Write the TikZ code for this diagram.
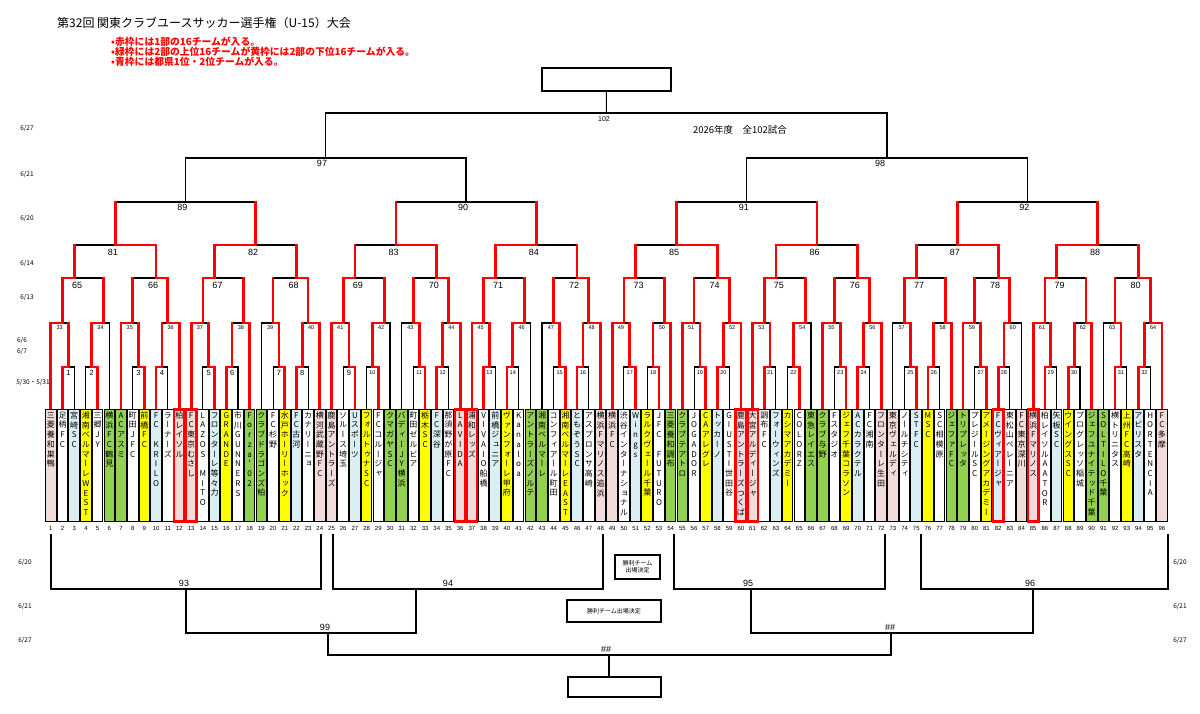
\documentclass[tikz,border=0pt]{standalone}
\usepackage{fontspec}
\setmainfont{Liberation Sans}
\newfontfamily\jp{Noto Sans CJK JP}
\newfontfamily\jpv[RawFeature=+vert]{Noto Sans CJK JP}
\definecolor{cP}{HTML}{F2DCDB}
\definecolor{cB}{HTML}{DAEEF3}
\definecolor{cY}{HTML}{FFFF00}
\definecolor{cG}{HTML}{92D050}
\definecolor{cW}{HTML}{FFFFFF}
\makeatletter
\newcommand\vtxt[1]{\vbox{\baselineskip=9.7pt\lineskiplimit=-20pt\lineskip=0pt\@tfor\vt@c:=#1\do{\hbox to 11pt{\hss\vt@c\hss\vrule height 6.5pt depth 2.5pt width 0pt}}}}
\makeatother
\newcommand\hseg[4][blackline]{\draw[#1] ({45+(#2)*5.8475},#4) -- ({45+(#3)*5.8475},#4);}
\newcommand\vseg[4][blackline]{\draw[#1] ({45+(#2)*5.8475},#3) -- ({45+(#2)*5.8475},#4);}
\tikzset{
  blackline/.style={line width=1.1pt, black, line cap=rect},
  redline/.style={line width=2.7pt, red, line cap=rect},
  botline/.style={line width=1.5pt, black},
  tbox/.style={draw=black, line width=1pt, minimum width=10.6pt, minimum height=112pt, inner sep=0pt, outer sep=0pt},
  biglab/.style={font=\fontsize{9}{9}\selectfont, inner sep=0pt},
  smlab/.style={font=\fontsize{5.5}{5.5}\selectfont, inner sep=0pt},
  datelab/.style={font=\jp\fontsize{6.5}{6.5}\selectfont, inner sep=0pt},
  winbox/.style={draw=black, line width=1.3pt, inner sep=0pt, font=\jp\fontsize{6}{7}\selectfont, align=center}
}
\begin{document}
\begin{tikzpicture}[x=1pt,y=-1pt]
\fill[white] (0,0) rectangle (1200,713);
\useasboundingbox (0,0) rectangle (1200,713);

% ---------- header ----------
\node[anchor=west, inner sep=0pt, font=\jp\fontsize{12}{12}\selectfont] (title) at (57,23) {第32回 関東クラブユースサッカー選手権（U-15）大会};
\node[anchor=west, inner sep=0pt, text=red, font=\jp\bfseries\fontsize{9.8}{10}\selectfont] (note1) at (111,42) {•赤枠には1部の16チームが入る。};
\node[anchor=west, inner sep=0pt, text=red, font=\jp\bfseries\fontsize{9.8}{10}\selectfont] (note2) at (111,52) {•緑枠には2部の上位16チームが黄枠には2部の下位16チームが入る。};
\node[anchor=west, inner sep=0pt, text=red, font=\jp\bfseries\fontsize{9.8}{10}\selectfont] (note3) at (111,62) {•青枠には都県1位・2位チームが入る。};
\node[inner sep=0pt, font=\jp\fontsize{9.5}{9.5}\selectfont] (total) at (740,130) {2026年度　全102試合};

% ---------- dates ----------
\node[datelab] (d1) at (27,128) {6/27};
\node[datelab] (d2) at (27,174) {6/21};
\node[datelab] (d3) at (27,218) {6/20};
\node[datelab] (d4) at (27,263) {6/14};
\node[datelab] (d5) at (27,297) {6/13};
\node[datelab] (d6) at (22,340) {6/6};
\node[datelab] (d7) at (22,351) {6/7};
\node[datelab] (d8) at (33,382) {5/30・5/31};
\node[datelab] (d9) at (25,562) {6/20};
\node[datelab] (d10) at (25,606) {6/21};
\node[datelab] (d11) at (25,640) {6/27};
\node[datelab] (d12) at (1180,562) {6/20};
\node[datelab] (d13) at (1180,606) {6/21};
\node[datelab] (d14) at (1180,640) {6/27};

% ---------- final box (top) ----------
\node[draw=black, line width=1.3pt, minimum width=129pt, minimum height=23pt, inner sep=0pt] (final) at (606.4,79.5) {};

% ---------- black base bracket ----------
\foreach \g in {0,...,7}{
  \pgfmathtruncatemacro\off{24*\g}
  \foreach \ea in {3,7,15,19}{
    \hseg{\off+\ea}{\off+\ea+2}{367}
    \vseg{\off+\ea+1}{323}{367}
    \vseg{\off+\ea}{367}{409}
    \vseg{\off+\ea+2}{367}{409}
  }
  \foreach \ea/\eb/\ec in {1/4/3, 8/11/10, 13/16/15, 20/23/21}{
    \hseg{\off+\ea}{\off+\eb}{323}
    \vseg{\off+\ec}{278}{323}
  }
  \foreach \ea in {1,11,13,23}{\vseg{\off+\ea}{323}{409}}
  \hseg{\off+3}{\off+10}{278}
  \hseg{\off+15}{\off+21}{278}
  \vseg{\off+5}{245}{278}
  \vseg{\off+19}{245}{278}
  \hseg{\off+5}{\off+19}{245}
  \vseg{\off+12}{202}{245}
}
\foreach \bq in {0,...,3}{
  \pgfmathtruncatemacro\OO{48*\bq}
  \hseg{\OO+12}{\OO+36}{202}
  \vseg{\OO+24}{158}{202}
}
\hseg{24}{72}{158}
\hseg{120}{168}{158}
\vseg{48}{113}{158}
\vseg{144}{113}{158}
\hseg{48}{144}{113}
\draw[blackline] (final.south) -- ({45+96*5.8475},113);

% ---------- red (winner) paths ----------
\foreach \g/\fa/\fb/\fc/\fe/\qa/\qb/\qc/\qd/\ua/\ub/\vb in {
0/0/1/1/0/1/0/1/1/0/1/1,
1/1/0/1/0/1/1/0/1/0/1/0,
2/1/1/1/0/1/0/0/1/0/1/1,
3/0/0/1/0/1/0/0/1/0/1/0,
4/1/1/1/0/1/1/1/1/0/1/1,
5/0/1/1/0/1/0/1/1/0/1/0,
6/1/0/1/0/0/1/1/0/0/1/1,
7/0/0/0/0/1/1/0/1/0/1/0}{
  \pgfmathtruncatemacro\off{24*\g}
  \pgfmathtruncatemacro\pp{\off+3+2*\fa}\hseg[redline]{\pp}{\off+4}{367}\vseg[redline]{\pp}{367}{409}
  \pgfmathtruncatemacro\pp{\off+7+2*\fb}\hseg[redline]{\pp}{\off+8}{367}\vseg[redline]{\pp}{367}{409}
  \pgfmathtruncatemacro\pp{\off+15+2*\fc}\hseg[redline]{\pp}{\off+16}{367}\vseg[redline]{\pp}{367}{409}
  \pgfmathtruncatemacro\pp{\off+19+2*\fe}\hseg[redline]{\pp}{\off+20}{367}\vseg[redline]{\pp}{367}{409}
  \foreach \ea in {4,8,16,20}{\vseg[redline]{\off+\ea}{323}{367}}
  \ifnum\qa=1 \hseg[redline]{\off+1}{\off+3}{323}\vseg[redline]{\off+1}{323}{409}\else\hseg[redline]{\off+4}{\off+3}{323}\fi
  \ifnum\qb=1 \hseg[redline]{\off+11}{\off+10}{323}\vseg[redline]{\off+11}{323}{409}\else\hseg[redline]{\off+8}{\off+10}{323}\fi
  \ifnum\qc=1 \hseg[redline]{\off+13}{\off+15}{323}\vseg[redline]{\off+13}{323}{409}\else\hseg[redline]{\off+16}{\off+15}{323}\fi
  \ifnum\qd=1 \hseg[redline]{\off+23}{\off+21}{323}\vseg[redline]{\off+23}{323}{409}\else\hseg[redline]{\off+20}{\off+21}{323}\fi
  \foreach \ea in {3,10,15,21}{\vseg[redline]{\off+\ea}{278}{323}}
  \ifnum\ua=0 \hseg[redline]{\off+3}{\off+5}{278}\else\hseg[redline]{\off+10}{\off+5}{278}\fi
  \ifnum\ub=0 \hseg[redline]{\off+15}{\off+19}{278}\else\hseg[redline]{\off+21}{\off+19}{278}\fi
  \vseg[redline]{\off+5}{245}{278}
  \vseg[redline]{\off+19}{245}{278}
  \ifnum\vb=0 \hseg[redline]{\off+5}{\off+12}{245}\else\hseg[redline]{\off+19}{\off+12}{245}\fi
  \vseg[redline]{\off+12}{202}{245}
}

% ---------- bracket labels ----------
\foreach \g in {0,...,7}{
  \pgfmathtruncatemacro\off{24*\g}
  \foreach \ea [count=\kk] in {4,8,16,20}{
    \pgfmathtruncatemacro\mn{4*\g+\kk}
    \ifnum\mn<10 \def\fs{7.5}\else\def\fs{5.5}\fi
    \node[inner sep=0pt, font=\fontsize{\fs}{\fs}\selectfont] at ({45+(\off+\ea)*5.8475},373) {\mn};
  }
  \foreach \ea [count=\kk] in {2.5,9.5,14.5,21.5}{
    \pgfmathtruncatemacro\mn{32+4*\g+\kk}
    \node[smlab] at ({45+(\off+\ea)*5.8475},328) {\mn};
  }
  \pgfmathtruncatemacro\mn{65+2*\g}
  \node[biglab] at ({45+(\off+5.5)*5.8475},285) {\mn};
  \pgfmathtruncatemacro\mn{66+2*\g}
  \node[biglab] at ({45+(\off+18.5)*5.8475},285) {\mn};
  \pgfmathtruncatemacro\mn{81+\g}
  \node[biglab] at ({45+(\off+11.6)*5.8475},252) {\mn};
}
\foreach \bq in {0,...,3}{
  \pgfmathtruncatemacro\mn{89+\bq}
  \node[biglab] at ({45+(48*\bq+23.5)*5.8475},207) {\mn};
}
\node[biglab] at (322,163) {97};
\node[biglab] at (880,163) {98};
\node[inner sep=0pt, font=\fontsize{7}{7}\selectfont] at (604,119) {102};

% ---------- team boxes ----------
\foreach \i/\nm/\cl in {
1/三菱養和巣鴨/P, 2/足柄FC/W, 3/宮崎SC/B, 4/湘南ベルマーレWEST/Y, 5/三郷JY/W, 6/横浜FC鶴見/G,
7/ACアスミ/G, 8/町田JFC/W, 9/前橋FC/Y, 10/FC~KRILO/B, 11/ラーナーズ/W, 12/柏レイソル/P,
13/FC東京むさし/P, 14/LAZOS~MITO/W, 15/フロンターレ等々力/B, 16/GRANDE/Y, 17/市川GUNNERS/W, 18/Forza'02/G,
19/クラブドラゴンズ柏/G, 20/FC杉野/W, 21/水戸ホーリーホック/Y, 22/FC古河/B, 23/カナリーニョ/W, 24/横河武蔵野FC/P,
25/鹿島アントラーズ/P, 26/ソルース埼玉/W, 27/Uスポーツ/B, 28/フォルトゥナSC/Y, 29/FCコルージャ/W, 30/クマガヤSC/G,
31/バディーJY横浜/G, 32/町田ゼルビア/W, 33/栃木SC/Y, 34/FC深谷/B, 35/那須野が原FC/W, 36/LAVIDA/P,
37/浦和レッズ/P, 38/VIVAIO船橋/W, 39/前橋ジュニア/B, 40/ヴァンフォーレ甲府/Y, 41/Kanaloa/W, 42/アントラーズノルテ/G,
43/湘南ベルマーレ/G, 44/コンフィアール町田/W, 45/湘南ベルマーレEAST/Y, 46/ともぞうSC/B, 47/アスプロンサ高崎/W, 48/横浜Fマリノス追浜/P,
49/横浜FC/P, 50/渋谷インターナショナル/W, 51/Wings/B, 52/ラルクヴェール千葉/Y, 53/JFC~FUTURO/W, 54/三菱養和調布/G,
55/クラブテアトロ/G, 56/JOGADOR/W, 57/CAアレグレ/Y, 58/トッカーノ/B, 59/GIUSTI世田谷/W, 60/鹿島アントラーズつくば/P,
61/大宮アルディージャ/P, 62/調布FC/W, 63/フォーウィンズ/B, 64/カシマアカデミー/Y, 65/COLORZ/W, 66/東急レイエス/G,
67/クラブ与野/G, 68/Fスタジオ/W, 69/ジェフ千葉コラソン/Y, 70/ACカラクテル/B, 71/FC湘南/W, 72/フロンターレ生田/P,
73/東京ヴェルディ/P, 74/ノールチシティ/W, 75/STFC/B, 76/MSC/Y, 77/SC相模原/W, 78/ジェファFC/G,
79/トリプレッタ/G, 80/プレジールSC/W, 81/アメージングアカデミー/Y, 82/FCヴィアージャ/B, 83/東松山ペレーニア/W, 84/FC東京深川/P,
85/横浜Fマリノス/P, 86/柏レイソルAATOR/W, 87/矢板SC/B, 88/ウイングスSC/Y, 89/プログレッソ稲城/W, 90/ジェフユナイテッド千葉/G,
91/SOLTILO千葉/G, 92/横トリニタス/W, 93/上州FC高崎/Y, 94/アビリスタ/B, 95/HORTENCIA/W, 96/FC多摩/P}{
  \pgfmathsetmacro\xc{45+(\i-0.5)*11.695}
  \node[tbox, fill=c\cl] (team\i) at (\xc,465.5) {};
  \node[anchor=north, inner sep=0pt, font=\jpv\fontsize{8}{9.7}\selectfont] (name\i) at (\xc,411.5) {\expandafter\vtxt\expandafter{\nm}};
  \node[inner sep=0pt, font=\fontsize{6}{6}\selectfont] (num\i) at (\xc,528) {\i};
}
\foreach \i in {12,13,36,37,60,61,82,85}{
  \draw[red, line width=2.6pt] (team\i.south west) rectangle (team\i.north east);
}

% ---------- lower bracket ----------
\draw[botline] (51,534) -- (51,589) -- (321,589) -- (321,534);
\draw[botline] (333,534) -- (333,589) -- (603,589) -- (603,534);
\draw[botline] (674,534) -- (674,589) -- (885,589) -- (885,534);
\draw[botline] (921,534) -- (921,589) -- (1168,589) -- (1168,534);
\draw[botline] (186,589) -- (186,633) -- (416,633) -- (416,589);
\draw[botline] (751,589) -- (751,633) -- (1033,633) -- (1033,589);
\draw[botline] (328,633) -- (328,655) -- (891,655) -- (891,633);
\node[biglab] at (184,583) {93};
\node[biglab] at (448,583) {94};
\node[biglab] at (748,583) {95};
\node[biglab] at (1030,583) {96};
\node[biglab] at (325,627) {99};
\node[biglab] at (890,627) {\#\#};
\node[biglab] at (606,649) {\#\#};
\node[draw=black, line width=1.3pt, minimum width=93pt, minimum height=20pt, inner sep=0pt] (bfinal) at (614.5,687) {};
\draw[botline] (609,655) -- (bfinal.north -| 609,655);
\node[winbox, minimum width=94pt, minimum height=22pt] (win1) at (614,611) {勝利チーム出場決定};
\node[winbox, minimum width=45pt, minimum height=24pt] (win2) at (637.5,567) {勝利チーム\\出場決定};
\end{tikzpicture}
\end{document}
